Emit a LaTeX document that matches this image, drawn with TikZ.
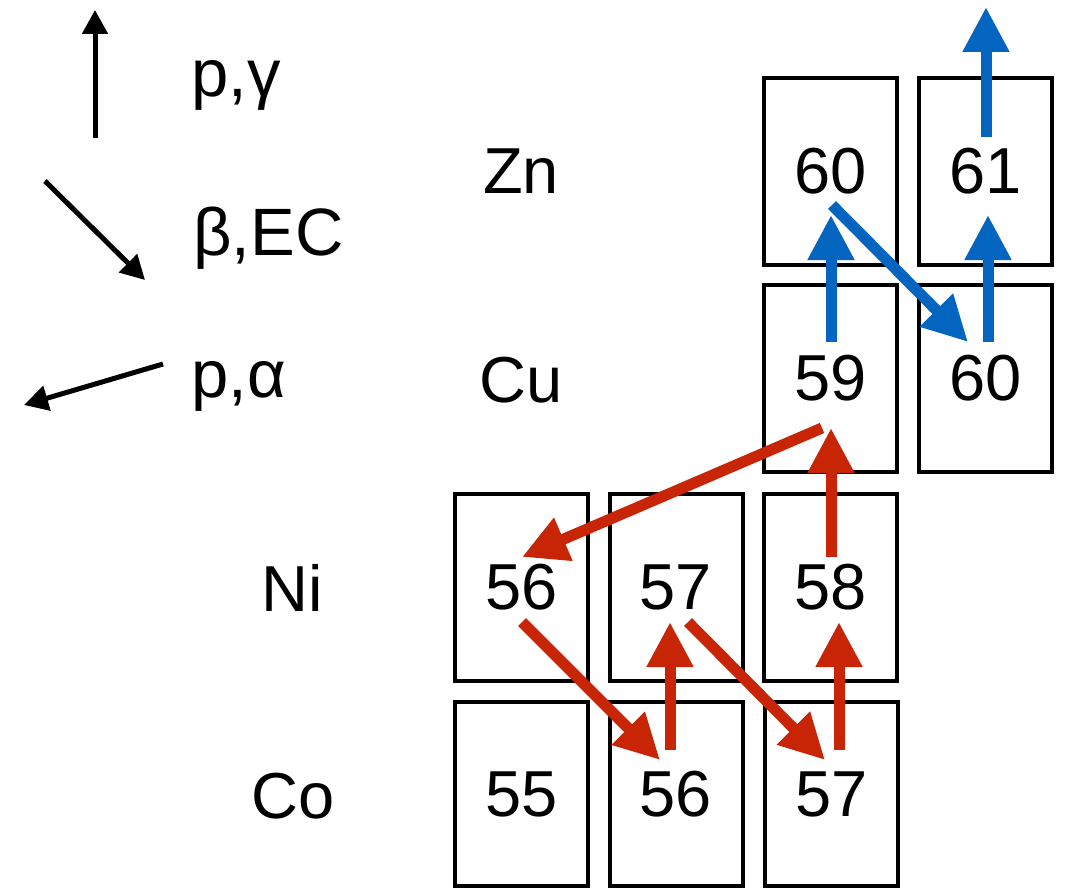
\documentclass[tikz,border=0pt]{standalone}
\usepackage{fontspec}
\setmainfont{Liberation Sans}
\usetikzlibrary{arrows.meta}
\definecolor{pgblue}{HTML}{0365C0}
\definecolor{pgred}{HTML}{C82506}
\begin{document}
\begin{tikzpicture}[x=1pt,y=-1pt,
  nuc/.style={draw=black,line width=4pt,minimum width=133pt,minimum height=187pt,
    inner sep=0pt,font=\fontsize{65}{70}\selectfont},
  elem/.style={inner sep=0pt,font=\fontsize{65}{70}\selectfont},
  legtext/.style={inner sep=0pt,anchor=base west,font=\fontsize{67}{72}\selectfont},
  legarrow/.style={line width=5pt,-{Triangle[length=24pt,width=25pt]}},
  bluearrow/.style={pgblue,line width=11pt,-{Triangle[length=45pt,width=44pt]}},
  redarrow/.style={pgred,line width=11pt,-{Triangle[length=45pt,width=44pt]}}]
\useasboundingbox (0,0) rectangle (1066,888);

% legend
\coordinate (l1a) at (95,138);  \coordinate (l1b) at (95,10);
\coordinate (l2a) at (45,181);  \coordinate (l2b) at (145,280);
\coordinate (l3a) at (163,364); \coordinate (l3b) at (24,405);
\draw[legarrow] (l1a) -- (l1b);
\draw[legarrow] (l2a) -- (l2b);
\draw[legarrow] (l3a) -- (l3b);
\node[legtext] (tpg) at (191,97) {p,γ};
\node[legtext] (tbe) at (193,255) {β,EC};
\node[legtext] (tpa) at (191,397) {p,α};

% element labels
\node[elem] (lzn) at (521,171.5) {Zn};
\node[elem] (lcu) at (521,380) {Cu};
\node[elem] (lni) at (292,588) {Ni};
\node[elem] (lco) at (293,796) {Co};

% nuclide boxes
\node[nuc] (zn60) at (830.5,171.5) {60};
\node[nuc] (zn61) at (985.5,171.5) {61};
\node[nuc] (cu59) at (830.5,378.5) {59};
\node[nuc] (cu60) at (985.5,378.5) {60};
\node[nuc] (ni56) at (521.5,587.5) {56};
\node[nuc] (ni57) at (676,587.5) {57};
\node[nuc] (ni58) at (830.5,587.5) {58};
\node[nuc,minimum height=184pt] (co55) at (521.5,794) {55};
\node[nuc,minimum height=184pt] (co56) at (676,794) {56};
\node[nuc,minimum height=184pt] (co57) at (831.5,794) {57};

% reaction flow: Zn/Cu part
\coordinate (out61) at ([shift={(0.5,-164.5)}]zn61.center);
\draw[bluearrow] ([shift={(0.5,-34.5)}]zn61.center) -- (out61);
\draw[bluearrow] ([shift={(0.5,-36.5)}]cu59.center) -- ([shift={(0.5,43.5)}]zn60.center);
\draw[bluearrow] ([shift={(1.5,33.5)}]zn60.center) -- ([shift={(-17.5,-36.5)}]cu60.center);
\draw[bluearrow] ([shift={(2.5,-36.5)}]cu60.center) -- ([shift={(2.5,43.5)}]zn61.center);

% reaction flow: Ni/Co part
\draw[redarrow] ([shift={(-8.5,49.5)}]cu59.center) -- ([shift={(0.5,-30.5)}]ni56.center);
\draw[redarrow] ([shift={(0.5,-30.5)}]ni58.center) -- ([shift={(0.5,49.5)}]cu59.center);
\draw[redarrow] ([shift={(0.5,34.5)}]ni56.center) -- ([shift={(-16,-34)}]co56.center);
\draw[redarrow] ([shift={(-6,-44)}]co56.center) -- ([shift={(-6,34.5)}]ni57.center);
\draw[redarrow] ([shift={(12,34.5)}]ni57.center) -- ([shift={(-6.5,-34)}]co57.center);
\draw[redarrow] ([shift={(7.5,-44)}]co57.center) -- ([shift={(8.5,34.5)}]ni58.center);
\end{tikzpicture}
\end{document}
